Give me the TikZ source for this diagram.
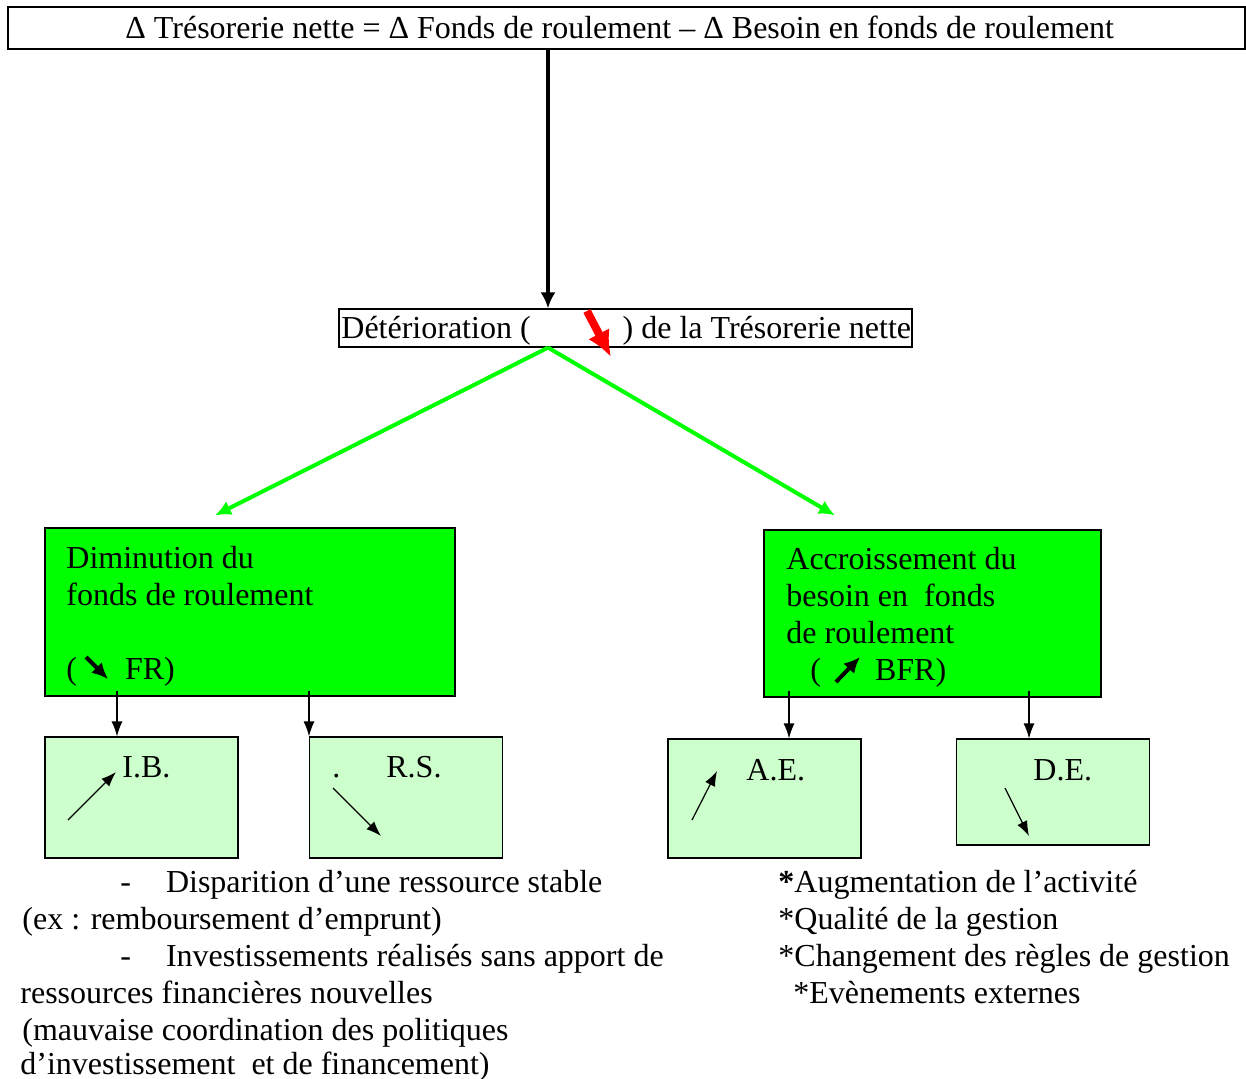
\documentclass[tikz,border=0pt]{standalone}
\usepackage{fontspec}
\setmainfont{Liberation Serif}
\usepackage{tikz}
\usetikzlibrary{arrows.meta}
\definecolor{vif}{RGB}{0,255,0}
\definecolor{pale}{RGB}{204,255,204}
\tikzstyle{cadre} = [draw,rectangle,semithick,inner sep=0pt]
\tikzstyle{bloc}  = [draw,rectangle,semithick,fill=vif,inner sep=0pt]
\tikzstyle{petit} = [draw,rectangle,semithick,fill=pale,inner sep=0pt,minimum width=96.5pt]
\tikzstyle{ligne} = [anchor=base west,inner sep=0pt,align=left]
\tikzstyle{fin}   = [-{Latex[length=7.5pt,width=5.5pt]},semithick]
\tikzstyle{gros}  = [-{Latex[length=8pt,width=7.5pt]},line width=2pt]

\begin{document}
\begin{tikzpicture}[x=0.5pt,y=-0.5pt,font=\fontsize{16}{18.5}\selectfont]
\useasboundingbox (0,0) rectangle (1246,1078);

% en-tete
\node[cadre,minimum width=618.5pt,minimum height=21pt] (tn) at (626.5,28) {};
\node[ligne] (eq) at (125,38) {Δ Trésorerie nette = Δ Fonds de roulement – Δ Besoin en fonds de roulement};
\node[cadre,minimum width=286.5pt,minimum height=19pt] (det) at (625.5,328) {};
\node[ligne] (dett) at (341,338) {Détérioration (\hspace{46pt}) de la Trésorerie nette};

% les deux causes
\node[bloc,minimum width=205pt,minimum height=84pt] (fr) at (250,612) {};
\node[bloc,minimum width=168.5pt,minimum height=83.5pt] (bfr) at (932.5,613.5) {};
\node[ligne] (frt) at (66,679) {Diminution du\\fonds de roulement\\\\(\hspace{24pt}FR)};
\node[ligne] (bfrt) at (786,680) {Accroissement du\\besoin en\ \ fonds\\de roulement\\\hspace{12pt}(\hspace{27pt}BFR)};

\node[petit,minimum height=60.5pt] (ib) at (141.5,797.5) {};
\node[petit,minimum height=60.5pt] (rs) at (406,797.5) {};
\node[petit,minimum height=59.5pt] (ae) at (764.5,798.5) {};
\node[petit,minimum height=53pt] (de) at (1053,792) {};
\node[ligne] (ibt) at (122,777) {I.B.};
\node[ligne] (rst) at (332,777) {.\hspace{23pt}R.S.};
\node[ligne] (aet) at (746,780) {A.E.};
\node[ligne] (det2) at (1033,780) {D.E.};

% liaisons
\draw[gros] ([xshift=-39.25pt]tn.south) -- ([xshift=-38.75pt]det.north);
\draw[gros,vif] ([xshift=-38.75pt]det.south) -- ([xshift=-17.5pt,yshift=6pt]fr.north);
\draw[gros,vif] ([xshift=-38.75pt]det.south) -- ([xshift=-48.75pt,yshift=7pt]bfr.north);
\draw[fin] ([xshift=-66.5pt,yshift=3pt]fr.south) -- ([xshift=-12.25pt]ib.north);
\draw[fin] ([xshift=29.5pt,yshift=3pt]fr.south) -- ([xshift=-48.5pt]rs.north);
\draw[fin] ([xshift=-71.75pt,yshift=3.5pt]bfr.south) -- ([xshift=12.25pt]ae.north);
\draw[fin] ([xshift=48.25pt,yshift=3.5pt]bfr.south) -- ([xshift=-12pt]de.north);

% petites fleches de sens
\draw[-{Latex[length=13pt,width=12pt]},line width=4pt,red] (587,311) -- (611,357);
\draw[gros] (86,657) -- (108,679);
\draw[gros] (836,682) -- (860,657);
\draw[fin] (68,820) -- (116,772);
\draw[fin] (333,788) -- (381,836);
\draw[fin] (692,820) -- (717,771);
\draw[fin] (1005,788) -- (1029,836);

% textes du bas
\node[ligne] (g1) at (120,892) {-\hspace{17.5pt}Disparition d’une ressource stable};
\node[ligne] (g2) at (22,929) {(ex : remboursement d’emprunt)};
\node[ligne] (g3) at (120,966) {-\hspace{17.5pt}Investissements réalisés sans apport de};
\node[ligne] (g4) at (20,1003) {ressources financières nouvelles};
\node[ligne] (g5) at (22,1040) {(mauvaise coordination des politiques};
\node[ligne] (g6) at (20,1074) {d’investissement\ \ et de financement)};
\node[ligne] (d1) at (778,892) {\textbf{*}Augmentation de l’activité};
\node[ligne] (d2) at (778,929) {*Qualité de la gestion};
\node[ligne] (d3) at (778,966) {*Changement des règles de gestion};
\node[ligne] (d4) at (793,1003) {*Evènements externes};

\end{tikzpicture}
\end{document}
